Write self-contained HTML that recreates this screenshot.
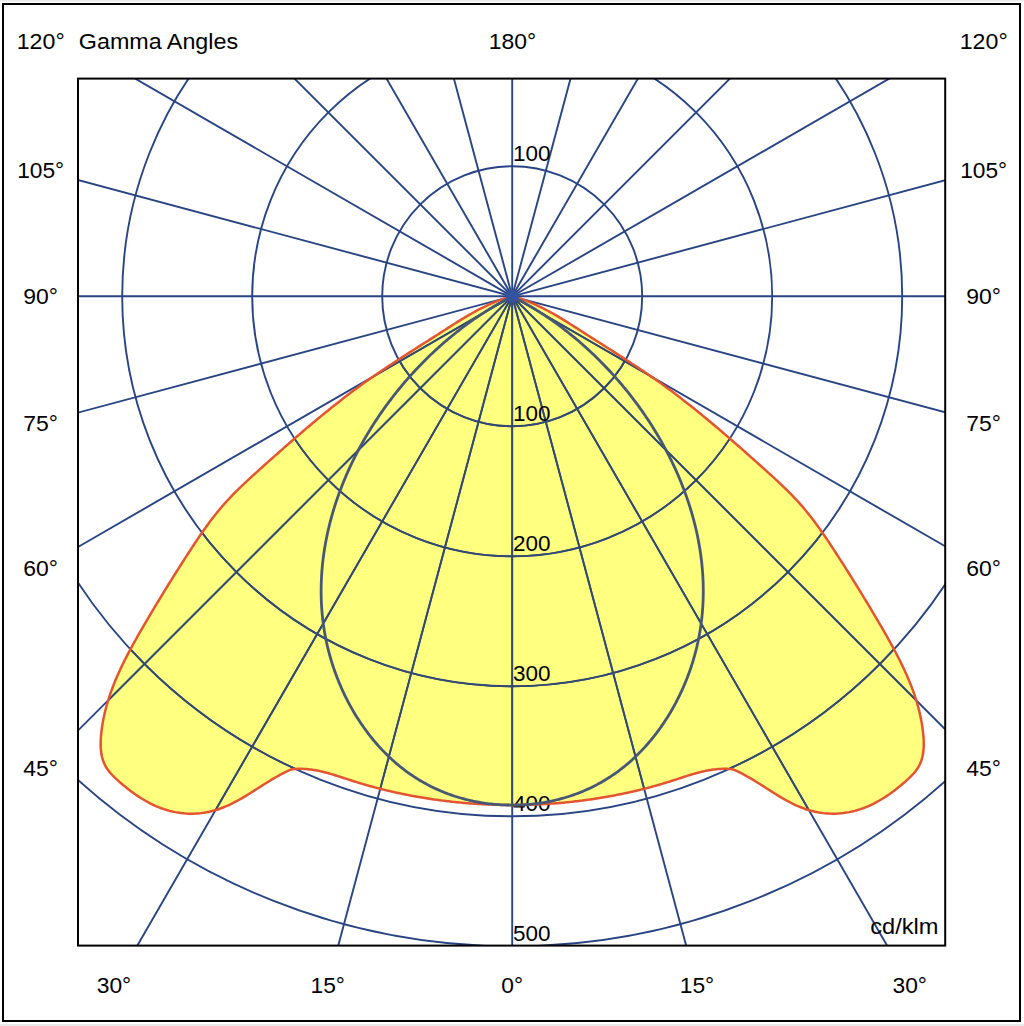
<!DOCTYPE html>
<html><head><meta charset="utf-8"><style>
html,body{margin:0;padding:0;background:#fff;width:1024px;height:1026px;overflow:hidden}
svg{display:block}
text{font-family:"Liberation Sans",sans-serif;font-size:22.5px;fill:#000}
</style></head><body>
<svg width="1024" height="1026" viewBox="0 0 1024 1026">
<defs><clipPath id="fr"><rect x="78.0" y="78.6" width="867.2" height="867.0"/></clipPath></defs>
<rect x="0" y="0" width="1024" height="1026" fill="#fff"/>
<rect x="0" y="0" width="1024" height="1.5" fill="#ececec"/>
<rect x="0" y="1024" width="1024" height="2" fill="#eaeaea"/>
<rect x="3" y="4" width="1017" height="1017" fill="none" stroke="#000" stroke-width="2"/>
<g clip-path="url(#fr)">
<path d="M512.20,296.30 L509.40,297.05 L506.63,297.86 L503.89,298.73 L501.17,299.66 L498.47,300.65 L495.79,301.69 L493.13,302.78 L490.49,303.91 L487.87,305.09 L485.27,306.32 L482.68,307.58 L480.11,308.89 L477.55,310.23 L475.01,311.60 L472.48,313.00 L469.96,314.43 L467.46,315.89 L464.96,317.37 L462.47,318.87 L459.99,320.38 L457.52,321.92 L455.05,323.46 L452.59,325.02 L450.13,326.59 L447.67,328.16 L445.22,329.73 L442.77,331.31 L440.32,332.88 L437.86,334.45 L435.41,336.02 L432.96,337.58 L430.51,339.15 L428.06,340.71 L425.61,342.26 L423.16,343.82 L420.71,345.38 L418.26,346.93 L415.81,348.49 L413.37,350.04 L410.93,351.60 L408.49,353.16 L406.05,354.72 L403.62,356.29 L401.18,357.86 L398.76,359.43 L396.33,361.00 L393.91,362.58 L391.49,364.17 L389.08,365.76 L386.68,367.36 L384.27,368.96 L381.87,370.57 L379.48,372.19 L377.10,373.82 L374.72,375.45 L372.34,377.10 L369.97,378.75 L367.61,380.42 L365.25,382.09 L362.91,383.77 L360.56,385.47 L358.23,387.17 L355.90,388.89 L353.58,390.61 L351.26,392.35 L348.95,394.09 L346.65,395.84 L344.35,397.60 L342.06,399.37 L339.77,401.15 L337.49,402.93 L335.21,404.73 L332.94,406.53 L330.68,408.34 L328.42,410.15 L326.16,411.98 L323.91,413.81 L321.67,415.64 L319.43,417.49 L317.19,419.33 L314.96,421.19 L312.73,423.05 L310.51,424.92 L308.29,426.79 L306.07,428.67 L303.86,430.55 L301.65,432.44 L299.45,434.33 L297.25,436.23 L295.05,438.13 L292.86,440.03 L290.67,441.94 L288.48,443.85 L286.29,445.76 L284.11,447.68 L281.93,449.60 L279.75,451.53 L277.58,453.45 L275.41,455.38 L273.24,457.31 L271.07,459.24 L268.90,461.18 L266.74,463.11 L264.58,465.05 L262.42,466.98 L260.26,468.92 L258.10,470.86 L255.95,472.81 L253.80,474.75 L251.66,476.70 L249.53,478.66 L247.41,480.63 L245.29,482.61 L243.19,484.60 L241.10,486.59 L239.02,488.61 L236.96,490.63 L234.92,492.67 L232.89,494.73 L230.89,496.81 L228.90,498.91 L226.93,501.02 L224.99,503.16 L223.07,505.32 L221.18,507.51 L219.32,509.72 L217.48,511.95 L215.66,514.21 L213.87,516.49 L212.09,518.79 L210.34,521.10 L208.61,523.44 L206.90,525.79 L205.20,528.15 L203.52,530.53 L201.86,532.92 L200.21,535.31 L198.57,537.72 L196.94,540.14 L195.33,542.56 L193.72,544.98 L192.12,547.41 L190.53,549.85 L188.94,552.28 L187.36,554.71 L185.78,557.14 L184.21,559.58 L182.65,562.02 L181.08,564.45 L179.53,566.89 L177.98,569.33 L176.43,571.77 L174.89,574.22 L173.36,576.66 L171.83,579.11 L170.30,581.56 L168.78,584.01 L167.26,586.47 L165.74,588.92 L164.23,591.38 L162.73,593.84 L161.22,596.31 L159.72,598.78 L158.23,601.25 L156.74,603.72 L155.25,606.20 L153.77,608.68 L152.28,611.16 L150.81,613.65 L149.33,616.15 L147.86,618.64 L146.39,621.14 L144.92,623.65 L143.46,626.15 L142.00,628.67 L140.54,631.19 L139.09,633.71 L137.65,636.24 L136.22,638.77 L134.79,641.31 L133.38,643.86 L131.98,646.41 L130.59,648.97 L129.21,651.54 L127.86,654.12 L126.52,656.70 L125.19,659.29 L123.89,661.89 L122.61,664.50 L121.35,667.12 L120.12,669.75 L118.91,672.39 L117.73,675.04 L116.57,677.69 L115.44,680.36 L114.35,683.04 L113.28,685.74 L112.25,688.44 L111.25,691.15 L110.29,693.88 L109.36,696.62 L108.47,699.38 L107.62,702.14 L106.81,704.92 L106.05,707.72 L105.32,710.52 L104.64,713.35 L104.01,716.18 L103.42,719.04 L102.88,721.90 L102.39,724.79 L101.95,727.69 L101.56,730.60 L101.23,733.54 L100.95,736.48 L100.76,739.42 L100.65,742.35 L100.65,745.27 L100.76,748.15 L101.00,751.00 L101.38,753.80 L101.91,756.55 L102.61,759.22 L103.50,761.83 L104.57,764.34 L105.85,766.76 L107.33,769.09 L109.00,771.33 L110.81,773.49 L112.76,775.59 L114.81,777.64 L116.95,779.63 L119.14,781.60 L121.38,783.53 L123.64,785.44 L125.94,787.32 L128.26,789.16 L130.62,790.96 L133.01,792.72 L135.43,794.43 L137.89,796.09 L140.37,797.70 L142.88,799.26 L145.41,800.75 L147.98,802.17 L150.58,803.53 L153.20,804.82 L155.85,806.03 L158.52,807.17 L161.23,808.22 L163.96,809.18 L166.71,810.06 L169.49,810.84 L172.30,811.53 L175.12,812.12 L177.96,812.61 L180.82,813.01 L183.68,813.31 L186.56,813.52 L189.44,813.63 L192.31,813.65 L195.19,813.56 L198.06,813.39 L200.92,813.12 L203.77,812.75 L206.60,812.28 L209.41,811.73 L212.20,811.07 L214.96,810.32 L217.70,809.48 L220.40,808.54 L223.08,807.53 L225.74,806.43 L228.37,805.27 L230.99,804.03 L233.58,802.74 L236.16,801.39 L238.72,800.00 L241.26,798.56 L243.79,797.08 L246.31,795.57 L248.82,794.03 L251.32,792.47 L253.82,790.89 L256.31,789.31 L258.79,787.72 L261.28,786.14 L263.76,784.56 L266.25,782.99 L268.73,781.45 L271.22,779.92 L273.72,778.43 L276.23,776.97 L278.74,775.56 L281.26,774.19 L283.80,772.87 L286.35,771.62 L288.92,770.42 L291.50,769.30 L293.03,769.14 L294.56,769.01 L296.09,768.92 L297.60,768.86 L299.12,768.83 L300.63,768.83 L302.13,768.86 L303.63,768.92 L305.12,769.01 L306.61,769.12 L308.10,769.25 L309.58,769.41 L311.05,769.60 L312.53,769.81 L314.00,770.03 L315.47,770.28 L316.93,770.55 L318.39,770.84 L319.85,771.15 L321.30,771.47 L322.76,771.81 L324.21,772.16 L325.66,772.53 L327.10,772.91 L328.55,773.31 L329.99,773.71 L331.43,774.13 L332.87,774.55 L334.31,774.99 L335.75,775.43 L337.19,775.88 L338.62,776.33 L340.06,776.79 L341.49,777.25 L342.93,777.72 L344.37,778.19 L345.80,778.66 L347.24,779.13 L348.68,779.60 L350.11,780.06 L351.55,780.53 L352.99,780.99 L354.43,781.45 L355.87,781.90 L357.32,782.35 L358.76,782.79 L360.21,783.23 L361.65,783.67 L363.10,784.10 L364.55,784.52 L366.00,784.94 L367.45,785.36 L368.91,785.77 L370.36,786.17 L371.81,786.57 L373.27,786.97 L374.73,787.36 L376.19,787.75 L377.65,788.13 L379.11,788.51 L380.57,788.89 L382.03,789.25 L383.50,789.62 L384.96,789.98 L386.43,790.34 L387.90,790.69 L389.36,791.03 L390.83,791.38 L392.30,791.71 L393.77,792.05 L395.25,792.38 L396.72,792.70 L398.19,793.02 L399.67,793.34 L401.15,793.65 L402.62,793.96 L404.10,794.26 L405.58,794.56 L407.06,794.85 L408.54,795.14 L410.02,795.43 L411.51,795.71 L412.99,795.98 L414.47,796.26 L415.96,796.52 L417.45,796.79 L418.93,797.05 L420.42,797.30 L421.91,797.55 L423.40,797.80 L424.89,798.04 L426.38,798.28 L427.87,798.52 L429.37,798.75 L430.86,798.97 L432.35,799.19 L433.85,799.41 L435.34,799.63 L436.84,799.83 L438.34,800.04 L439.83,800.24 L441.33,800.44 L442.83,800.63 L444.33,800.82 L445.83,801.00 L447.33,801.19 L448.84,801.36 L450.34,801.53 L451.84,801.70 L453.34,801.87 L454.85,802.03 L456.35,802.18 L457.86,802.33 L459.36,802.48 L460.87,802.63 L462.38,802.76 L463.88,802.90 L465.39,803.03 L466.90,803.16 L468.41,803.28 L469.91,803.40 L471.42,803.51 L472.93,803.62 L474.44,803.73 L475.95,803.83 L477.46,803.93 L478.97,804.02 L480.48,804.11 L481.99,804.19 L483.50,804.27 L485.02,804.35 L486.53,804.42 L488.04,804.49 L489.55,804.55 L491.06,804.61 L492.57,804.67 L494.09,804.72 L495.60,804.77 L497.11,804.81 L498.62,804.85 L500.13,804.88 L501.65,804.91 L503.16,804.93 L504.67,804.95 L506.18,804.97 L507.70,804.98 L509.21,804.99 L510.72,804.99 L512.20,804.99 L513.68,804.99 L515.19,804.99 L516.70,804.98 L518.22,804.97 L519.73,804.95 L521.24,804.93 L522.75,804.91 L524.27,804.88 L525.78,804.85 L527.29,804.81 L528.80,804.77 L530.31,804.72 L531.83,804.67 L533.34,804.61 L534.85,804.55 L536.36,804.49 L537.87,804.42 L539.38,804.35 L540.90,804.27 L542.41,804.19 L543.92,804.11 L545.43,804.02 L546.94,803.93 L548.45,803.83 L549.96,803.73 L551.47,803.62 L552.98,803.51 L554.49,803.40 L555.99,803.28 L557.50,803.16 L559.01,803.03 L560.52,802.90 L562.02,802.76 L563.53,802.63 L565.04,802.48 L566.54,802.33 L568.05,802.18 L569.55,802.03 L571.06,801.87 L572.56,801.70 L574.06,801.53 L575.56,801.36 L577.07,801.19 L578.57,801.00 L580.07,800.82 L581.57,800.63 L583.07,800.44 L584.57,800.24 L586.06,800.04 L587.56,799.83 L589.06,799.63 L590.55,799.41 L592.05,799.19 L593.54,798.97 L595.03,798.75 L596.53,798.52 L598.02,798.28 L599.51,798.04 L601.00,797.80 L602.49,797.55 L603.98,797.30 L605.47,797.05 L606.95,796.79 L608.44,796.52 L609.93,796.26 L611.41,795.98 L612.89,795.71 L614.38,795.43 L615.86,795.14 L617.34,794.85 L618.82,794.56 L620.30,794.26 L621.78,793.96 L623.25,793.65 L624.73,793.34 L626.21,793.02 L627.68,792.70 L629.15,792.38 L630.63,792.05 L632.10,791.71 L633.57,791.38 L635.04,791.03 L636.50,790.69 L637.97,790.34 L639.44,789.98 L640.90,789.62 L642.37,789.25 L643.83,788.89 L645.29,788.51 L646.75,788.13 L648.21,787.75 L649.67,787.36 L651.13,786.97 L652.59,786.57 L654.04,786.17 L655.49,785.77 L656.95,785.36 L658.40,784.94 L659.85,784.52 L661.30,784.10 L662.75,783.67 L664.19,783.23 L665.64,782.79 L667.08,782.35 L668.53,781.90 L669.97,781.45 L671.41,780.99 L672.85,780.53 L674.29,780.06 L675.72,779.60 L677.16,779.13 L678.60,778.66 L680.03,778.19 L681.47,777.72 L682.91,777.25 L684.34,776.79 L685.78,776.33 L687.21,775.88 L688.65,775.43 L690.09,774.99 L691.53,774.55 L692.97,774.13 L694.41,773.71 L695.85,773.31 L697.30,772.91 L698.74,772.53 L700.19,772.16 L701.64,771.81 L703.10,771.47 L704.55,771.15 L706.01,770.84 L707.47,770.55 L708.93,770.28 L710.40,770.03 L711.87,769.81 L713.35,769.60 L714.82,769.41 L716.30,769.25 L717.79,769.12 L719.28,769.01 L720.77,768.92 L722.27,768.86 L723.77,768.83 L725.28,768.83 L726.80,768.86 L728.31,768.92 L729.84,769.01 L731.37,769.14 L732.90,769.30 L735.48,770.42 L738.05,771.62 L740.60,772.87 L743.14,774.19 L745.66,775.56 L748.17,776.97 L750.68,778.43 L753.18,779.92 L755.67,781.45 L758.15,782.99 L760.64,784.56 L763.12,786.14 L765.61,787.72 L768.09,789.31 L770.58,790.89 L773.08,792.47 L775.58,794.03 L778.09,795.57 L780.61,797.08 L783.14,798.56 L785.68,800.00 L788.24,801.39 L790.82,802.74 L793.41,804.03 L796.03,805.27 L798.66,806.43 L801.32,807.53 L804.00,808.54 L806.70,809.48 L809.44,810.32 L812.20,811.07 L814.99,811.73 L817.80,812.28 L820.63,812.75 L823.48,813.12 L826.34,813.39 L829.21,813.56 L832.09,813.65 L834.96,813.63 L837.84,813.52 L840.72,813.31 L843.58,813.01 L846.44,812.61 L849.28,812.12 L852.10,811.53 L854.91,810.84 L857.69,810.06 L860.44,809.18 L863.17,808.22 L865.88,807.17 L868.55,806.03 L871.20,804.82 L873.82,803.53 L876.42,802.17 L878.99,800.75 L881.52,799.26 L884.03,797.70 L886.51,796.09 L888.97,794.43 L891.39,792.72 L893.78,790.96 L896.14,789.16 L898.46,787.32 L900.76,785.44 L903.02,783.53 L905.26,781.60 L907.45,779.63 L909.59,777.64 L911.64,775.59 L913.59,773.49 L915.40,771.33 L917.07,769.09 L918.55,766.76 L919.83,764.34 L920.90,761.83 L921.79,759.22 L922.49,756.55 L923.02,753.80 L923.40,751.00 L923.64,748.15 L923.75,745.27 L923.75,742.35 L923.64,739.42 L923.45,736.48 L923.17,733.54 L922.84,730.60 L922.45,727.69 L922.01,724.79 L921.52,721.90 L920.98,719.04 L920.39,716.18 L919.76,713.35 L919.08,710.52 L918.35,707.72 L917.59,704.92 L916.78,702.14 L915.93,699.38 L915.04,696.62 L914.11,693.88 L913.15,691.15 L912.15,688.44 L911.12,685.74 L910.05,683.04 L908.96,680.36 L907.83,677.69 L906.67,675.04 L905.49,672.39 L904.28,669.75 L903.05,667.12 L901.79,664.50 L900.51,661.89 L899.21,659.29 L897.88,656.70 L896.54,654.12 L895.19,651.54 L893.81,648.97 L892.42,646.41 L891.02,643.86 L889.61,641.31 L888.18,638.77 L886.75,636.24 L885.31,633.71 L883.86,631.19 L882.40,628.67 L880.94,626.15 L879.48,623.65 L878.01,621.14 L876.54,618.64 L875.07,616.15 L873.59,613.65 L872.12,611.16 L870.63,608.68 L869.15,606.20 L867.66,603.72 L866.17,601.25 L864.68,598.78 L863.18,596.31 L861.67,593.84 L860.17,591.38 L858.66,588.92 L857.14,586.47 L855.62,584.01 L854.10,581.56 L852.57,579.11 L851.04,576.66 L849.51,574.22 L847.97,571.77 L846.42,569.33 L844.87,566.89 L843.32,564.45 L841.75,562.02 L840.19,559.58 L838.62,557.14 L837.04,554.71 L835.46,552.28 L833.87,549.85 L832.28,547.41 L830.68,544.98 L829.07,542.56 L827.46,540.14 L825.83,537.72 L824.19,535.31 L822.54,532.92 L820.88,530.53 L819.20,528.15 L817.50,525.79 L815.79,523.44 L814.06,521.10 L812.31,518.79 L810.53,516.49 L808.74,514.21 L806.92,511.95 L805.08,509.72 L803.22,507.51 L801.33,505.32 L799.41,503.16 L797.47,501.02 L795.50,498.91 L793.51,496.81 L791.51,494.73 L789.48,492.67 L787.44,490.63 L785.38,488.61 L783.30,486.59 L781.21,484.60 L779.11,482.61 L776.99,480.63 L774.87,478.66 L772.74,476.70 L770.60,474.75 L768.45,472.81 L766.30,470.86 L764.14,468.92 L761.98,466.98 L759.82,465.05 L757.66,463.11 L755.50,461.18 L753.33,459.24 L751.16,457.31 L748.99,455.38 L746.82,453.45 L744.65,451.53 L742.47,449.60 L740.29,447.68 L738.11,445.76 L735.92,443.85 L733.73,441.94 L731.54,440.03 L729.35,438.13 L727.15,436.23 L724.95,434.33 L722.75,432.44 L720.54,430.55 L718.33,428.67 L716.11,426.79 L713.89,424.92 L711.67,423.05 L709.44,421.19 L707.21,419.33 L704.97,417.49 L702.73,415.64 L700.49,413.81 L698.24,411.98 L695.98,410.15 L693.72,408.34 L691.46,406.53 L689.19,404.73 L686.91,402.93 L684.63,401.15 L682.34,399.37 L680.05,397.60 L677.75,395.84 L675.45,394.09 L673.14,392.35 L670.82,390.61 L668.50,388.89 L666.17,387.17 L663.84,385.47 L661.49,383.77 L659.15,382.09 L656.79,380.42 L654.43,378.75 L652.06,377.10 L649.68,375.45 L647.30,373.82 L644.92,372.19 L642.53,370.57 L640.13,368.96 L637.72,367.36 L635.32,365.76 L632.91,364.17 L630.49,362.58 L628.07,361.00 L625.64,359.43 L623.22,357.86 L620.78,356.29 L618.35,354.72 L615.91,353.16 L613.47,351.60 L611.03,350.04 L608.59,348.49 L606.14,346.93 L603.69,345.38 L601.24,343.82 L598.79,342.26 L596.34,340.71 L593.89,339.15 L591.44,337.58 L588.99,336.02 L586.54,334.45 L584.08,332.88 L581.63,331.31 L579.18,329.73 L576.73,328.16 L574.27,326.59 L571.81,325.02 L569.35,323.46 L566.88,321.92 L564.41,320.38 L561.93,318.87 L559.44,317.37 L556.94,315.89 L554.44,314.43 L551.92,313.00 L549.39,311.60 L546.85,310.23 L544.29,308.89 L541.72,307.58 L539.13,306.32 L536.53,305.09 L533.91,303.91 L531.27,302.78 L528.61,301.69 L525.93,300.65 L523.23,299.66 L520.51,298.73 L517.77,297.86 L515.00,297.05 L512.20,296.30 Z" fill="#ffff80" stroke="none"/>
<clipPath id="yl"><path d="M512.20,296.30 L509.40,297.05 L506.63,297.86 L503.89,298.73 L501.17,299.66 L498.47,300.65 L495.79,301.69 L493.13,302.78 L490.49,303.91 L487.87,305.09 L485.27,306.32 L482.68,307.58 L480.11,308.89 L477.55,310.23 L475.01,311.60 L472.48,313.00 L469.96,314.43 L467.46,315.89 L464.96,317.37 L462.47,318.87 L459.99,320.38 L457.52,321.92 L455.05,323.46 L452.59,325.02 L450.13,326.59 L447.67,328.16 L445.22,329.73 L442.77,331.31 L440.32,332.88 L437.86,334.45 L435.41,336.02 L432.96,337.58 L430.51,339.15 L428.06,340.71 L425.61,342.26 L423.16,343.82 L420.71,345.38 L418.26,346.93 L415.81,348.49 L413.37,350.04 L410.93,351.60 L408.49,353.16 L406.05,354.72 L403.62,356.29 L401.18,357.86 L398.76,359.43 L396.33,361.00 L393.91,362.58 L391.49,364.17 L389.08,365.76 L386.68,367.36 L384.27,368.96 L381.87,370.57 L379.48,372.19 L377.10,373.82 L374.72,375.45 L372.34,377.10 L369.97,378.75 L367.61,380.42 L365.25,382.09 L362.91,383.77 L360.56,385.47 L358.23,387.17 L355.90,388.89 L353.58,390.61 L351.26,392.35 L348.95,394.09 L346.65,395.84 L344.35,397.60 L342.06,399.37 L339.77,401.15 L337.49,402.93 L335.21,404.73 L332.94,406.53 L330.68,408.34 L328.42,410.15 L326.16,411.98 L323.91,413.81 L321.67,415.64 L319.43,417.49 L317.19,419.33 L314.96,421.19 L312.73,423.05 L310.51,424.92 L308.29,426.79 L306.07,428.67 L303.86,430.55 L301.65,432.44 L299.45,434.33 L297.25,436.23 L295.05,438.13 L292.86,440.03 L290.67,441.94 L288.48,443.85 L286.29,445.76 L284.11,447.68 L281.93,449.60 L279.75,451.53 L277.58,453.45 L275.41,455.38 L273.24,457.31 L271.07,459.24 L268.90,461.18 L266.74,463.11 L264.58,465.05 L262.42,466.98 L260.26,468.92 L258.10,470.86 L255.95,472.81 L253.80,474.75 L251.66,476.70 L249.53,478.66 L247.41,480.63 L245.29,482.61 L243.19,484.60 L241.10,486.59 L239.02,488.61 L236.96,490.63 L234.92,492.67 L232.89,494.73 L230.89,496.81 L228.90,498.91 L226.93,501.02 L224.99,503.16 L223.07,505.32 L221.18,507.51 L219.32,509.72 L217.48,511.95 L215.66,514.21 L213.87,516.49 L212.09,518.79 L210.34,521.10 L208.61,523.44 L206.90,525.79 L205.20,528.15 L203.52,530.53 L201.86,532.92 L200.21,535.31 L198.57,537.72 L196.94,540.14 L195.33,542.56 L193.72,544.98 L192.12,547.41 L190.53,549.85 L188.94,552.28 L187.36,554.71 L185.78,557.14 L184.21,559.58 L182.65,562.02 L181.08,564.45 L179.53,566.89 L177.98,569.33 L176.43,571.77 L174.89,574.22 L173.36,576.66 L171.83,579.11 L170.30,581.56 L168.78,584.01 L167.26,586.47 L165.74,588.92 L164.23,591.38 L162.73,593.84 L161.22,596.31 L159.72,598.78 L158.23,601.25 L156.74,603.72 L155.25,606.20 L153.77,608.68 L152.28,611.16 L150.81,613.65 L149.33,616.15 L147.86,618.64 L146.39,621.14 L144.92,623.65 L143.46,626.15 L142.00,628.67 L140.54,631.19 L139.09,633.71 L137.65,636.24 L136.22,638.77 L134.79,641.31 L133.38,643.86 L131.98,646.41 L130.59,648.97 L129.21,651.54 L127.86,654.12 L126.52,656.70 L125.19,659.29 L123.89,661.89 L122.61,664.50 L121.35,667.12 L120.12,669.75 L118.91,672.39 L117.73,675.04 L116.57,677.69 L115.44,680.36 L114.35,683.04 L113.28,685.74 L112.25,688.44 L111.25,691.15 L110.29,693.88 L109.36,696.62 L108.47,699.38 L107.62,702.14 L106.81,704.92 L106.05,707.72 L105.32,710.52 L104.64,713.35 L104.01,716.18 L103.42,719.04 L102.88,721.90 L102.39,724.79 L101.95,727.69 L101.56,730.60 L101.23,733.54 L100.95,736.48 L100.76,739.42 L100.65,742.35 L100.65,745.27 L100.76,748.15 L101.00,751.00 L101.38,753.80 L101.91,756.55 L102.61,759.22 L103.50,761.83 L104.57,764.34 L105.85,766.76 L107.33,769.09 L109.00,771.33 L110.81,773.49 L112.76,775.59 L114.81,777.64 L116.95,779.63 L119.14,781.60 L121.38,783.53 L123.64,785.44 L125.94,787.32 L128.26,789.16 L130.62,790.96 L133.01,792.72 L135.43,794.43 L137.89,796.09 L140.37,797.70 L142.88,799.26 L145.41,800.75 L147.98,802.17 L150.58,803.53 L153.20,804.82 L155.85,806.03 L158.52,807.17 L161.23,808.22 L163.96,809.18 L166.71,810.06 L169.49,810.84 L172.30,811.53 L175.12,812.12 L177.96,812.61 L180.82,813.01 L183.68,813.31 L186.56,813.52 L189.44,813.63 L192.31,813.65 L195.19,813.56 L198.06,813.39 L200.92,813.12 L203.77,812.75 L206.60,812.28 L209.41,811.73 L212.20,811.07 L214.96,810.32 L217.70,809.48 L220.40,808.54 L223.08,807.53 L225.74,806.43 L228.37,805.27 L230.99,804.03 L233.58,802.74 L236.16,801.39 L238.72,800.00 L241.26,798.56 L243.79,797.08 L246.31,795.57 L248.82,794.03 L251.32,792.47 L253.82,790.89 L256.31,789.31 L258.79,787.72 L261.28,786.14 L263.76,784.56 L266.25,782.99 L268.73,781.45 L271.22,779.92 L273.72,778.43 L276.23,776.97 L278.74,775.56 L281.26,774.19 L283.80,772.87 L286.35,771.62 L288.92,770.42 L291.50,769.30 L293.03,769.14 L294.56,769.01 L296.09,768.92 L297.60,768.86 L299.12,768.83 L300.63,768.83 L302.13,768.86 L303.63,768.92 L305.12,769.01 L306.61,769.12 L308.10,769.25 L309.58,769.41 L311.05,769.60 L312.53,769.81 L314.00,770.03 L315.47,770.28 L316.93,770.55 L318.39,770.84 L319.85,771.15 L321.30,771.47 L322.76,771.81 L324.21,772.16 L325.66,772.53 L327.10,772.91 L328.55,773.31 L329.99,773.71 L331.43,774.13 L332.87,774.55 L334.31,774.99 L335.75,775.43 L337.19,775.88 L338.62,776.33 L340.06,776.79 L341.49,777.25 L342.93,777.72 L344.37,778.19 L345.80,778.66 L347.24,779.13 L348.68,779.60 L350.11,780.06 L351.55,780.53 L352.99,780.99 L354.43,781.45 L355.87,781.90 L357.32,782.35 L358.76,782.79 L360.21,783.23 L361.65,783.67 L363.10,784.10 L364.55,784.52 L366.00,784.94 L367.45,785.36 L368.91,785.77 L370.36,786.17 L371.81,786.57 L373.27,786.97 L374.73,787.36 L376.19,787.75 L377.65,788.13 L379.11,788.51 L380.57,788.89 L382.03,789.25 L383.50,789.62 L384.96,789.98 L386.43,790.34 L387.90,790.69 L389.36,791.03 L390.83,791.38 L392.30,791.71 L393.77,792.05 L395.25,792.38 L396.72,792.70 L398.19,793.02 L399.67,793.34 L401.15,793.65 L402.62,793.96 L404.10,794.26 L405.58,794.56 L407.06,794.85 L408.54,795.14 L410.02,795.43 L411.51,795.71 L412.99,795.98 L414.47,796.26 L415.96,796.52 L417.45,796.79 L418.93,797.05 L420.42,797.30 L421.91,797.55 L423.40,797.80 L424.89,798.04 L426.38,798.28 L427.87,798.52 L429.37,798.75 L430.86,798.97 L432.35,799.19 L433.85,799.41 L435.34,799.63 L436.84,799.83 L438.34,800.04 L439.83,800.24 L441.33,800.44 L442.83,800.63 L444.33,800.82 L445.83,801.00 L447.33,801.19 L448.84,801.36 L450.34,801.53 L451.84,801.70 L453.34,801.87 L454.85,802.03 L456.35,802.18 L457.86,802.33 L459.36,802.48 L460.87,802.63 L462.38,802.76 L463.88,802.90 L465.39,803.03 L466.90,803.16 L468.41,803.28 L469.91,803.40 L471.42,803.51 L472.93,803.62 L474.44,803.73 L475.95,803.83 L477.46,803.93 L478.97,804.02 L480.48,804.11 L481.99,804.19 L483.50,804.27 L485.02,804.35 L486.53,804.42 L488.04,804.49 L489.55,804.55 L491.06,804.61 L492.57,804.67 L494.09,804.72 L495.60,804.77 L497.11,804.81 L498.62,804.85 L500.13,804.88 L501.65,804.91 L503.16,804.93 L504.67,804.95 L506.18,804.97 L507.70,804.98 L509.21,804.99 L510.72,804.99 L512.20,804.99 L513.68,804.99 L515.19,804.99 L516.70,804.98 L518.22,804.97 L519.73,804.95 L521.24,804.93 L522.75,804.91 L524.27,804.88 L525.78,804.85 L527.29,804.81 L528.80,804.77 L530.31,804.72 L531.83,804.67 L533.34,804.61 L534.85,804.55 L536.36,804.49 L537.87,804.42 L539.38,804.35 L540.90,804.27 L542.41,804.19 L543.92,804.11 L545.43,804.02 L546.94,803.93 L548.45,803.83 L549.96,803.73 L551.47,803.62 L552.98,803.51 L554.49,803.40 L555.99,803.28 L557.50,803.16 L559.01,803.03 L560.52,802.90 L562.02,802.76 L563.53,802.63 L565.04,802.48 L566.54,802.33 L568.05,802.18 L569.55,802.03 L571.06,801.87 L572.56,801.70 L574.06,801.53 L575.56,801.36 L577.07,801.19 L578.57,801.00 L580.07,800.82 L581.57,800.63 L583.07,800.44 L584.57,800.24 L586.06,800.04 L587.56,799.83 L589.06,799.63 L590.55,799.41 L592.05,799.19 L593.54,798.97 L595.03,798.75 L596.53,798.52 L598.02,798.28 L599.51,798.04 L601.00,797.80 L602.49,797.55 L603.98,797.30 L605.47,797.05 L606.95,796.79 L608.44,796.52 L609.93,796.26 L611.41,795.98 L612.89,795.71 L614.38,795.43 L615.86,795.14 L617.34,794.85 L618.82,794.56 L620.30,794.26 L621.78,793.96 L623.25,793.65 L624.73,793.34 L626.21,793.02 L627.68,792.70 L629.15,792.38 L630.63,792.05 L632.10,791.71 L633.57,791.38 L635.04,791.03 L636.50,790.69 L637.97,790.34 L639.44,789.98 L640.90,789.62 L642.37,789.25 L643.83,788.89 L645.29,788.51 L646.75,788.13 L648.21,787.75 L649.67,787.36 L651.13,786.97 L652.59,786.57 L654.04,786.17 L655.49,785.77 L656.95,785.36 L658.40,784.94 L659.85,784.52 L661.30,784.10 L662.75,783.67 L664.19,783.23 L665.64,782.79 L667.08,782.35 L668.53,781.90 L669.97,781.45 L671.41,780.99 L672.85,780.53 L674.29,780.06 L675.72,779.60 L677.16,779.13 L678.60,778.66 L680.03,778.19 L681.47,777.72 L682.91,777.25 L684.34,776.79 L685.78,776.33 L687.21,775.88 L688.65,775.43 L690.09,774.99 L691.53,774.55 L692.97,774.13 L694.41,773.71 L695.85,773.31 L697.30,772.91 L698.74,772.53 L700.19,772.16 L701.64,771.81 L703.10,771.47 L704.55,771.15 L706.01,770.84 L707.47,770.55 L708.93,770.28 L710.40,770.03 L711.87,769.81 L713.35,769.60 L714.82,769.41 L716.30,769.25 L717.79,769.12 L719.28,769.01 L720.77,768.92 L722.27,768.86 L723.77,768.83 L725.28,768.83 L726.80,768.86 L728.31,768.92 L729.84,769.01 L731.37,769.14 L732.90,769.30 L735.48,770.42 L738.05,771.62 L740.60,772.87 L743.14,774.19 L745.66,775.56 L748.17,776.97 L750.68,778.43 L753.18,779.92 L755.67,781.45 L758.15,782.99 L760.64,784.56 L763.12,786.14 L765.61,787.72 L768.09,789.31 L770.58,790.89 L773.08,792.47 L775.58,794.03 L778.09,795.57 L780.61,797.08 L783.14,798.56 L785.68,800.00 L788.24,801.39 L790.82,802.74 L793.41,804.03 L796.03,805.27 L798.66,806.43 L801.32,807.53 L804.00,808.54 L806.70,809.48 L809.44,810.32 L812.20,811.07 L814.99,811.73 L817.80,812.28 L820.63,812.75 L823.48,813.12 L826.34,813.39 L829.21,813.56 L832.09,813.65 L834.96,813.63 L837.84,813.52 L840.72,813.31 L843.58,813.01 L846.44,812.61 L849.28,812.12 L852.10,811.53 L854.91,810.84 L857.69,810.06 L860.44,809.18 L863.17,808.22 L865.88,807.17 L868.55,806.03 L871.20,804.82 L873.82,803.53 L876.42,802.17 L878.99,800.75 L881.52,799.26 L884.03,797.70 L886.51,796.09 L888.97,794.43 L891.39,792.72 L893.78,790.96 L896.14,789.16 L898.46,787.32 L900.76,785.44 L903.02,783.53 L905.26,781.60 L907.45,779.63 L909.59,777.64 L911.64,775.59 L913.59,773.49 L915.40,771.33 L917.07,769.09 L918.55,766.76 L919.83,764.34 L920.90,761.83 L921.79,759.22 L922.49,756.55 L923.02,753.80 L923.40,751.00 L923.64,748.15 L923.75,745.27 L923.75,742.35 L923.64,739.42 L923.45,736.48 L923.17,733.54 L922.84,730.60 L922.45,727.69 L922.01,724.79 L921.52,721.90 L920.98,719.04 L920.39,716.18 L919.76,713.35 L919.08,710.52 L918.35,707.72 L917.59,704.92 L916.78,702.14 L915.93,699.38 L915.04,696.62 L914.11,693.88 L913.15,691.15 L912.15,688.44 L911.12,685.74 L910.05,683.04 L908.96,680.36 L907.83,677.69 L906.67,675.04 L905.49,672.39 L904.28,669.75 L903.05,667.12 L901.79,664.50 L900.51,661.89 L899.21,659.29 L897.88,656.70 L896.54,654.12 L895.19,651.54 L893.81,648.97 L892.42,646.41 L891.02,643.86 L889.61,641.31 L888.18,638.77 L886.75,636.24 L885.31,633.71 L883.86,631.19 L882.40,628.67 L880.94,626.15 L879.48,623.65 L878.01,621.14 L876.54,618.64 L875.07,616.15 L873.59,613.65 L872.12,611.16 L870.63,608.68 L869.15,606.20 L867.66,603.72 L866.17,601.25 L864.68,598.78 L863.18,596.31 L861.67,593.84 L860.17,591.38 L858.66,588.92 L857.14,586.47 L855.62,584.01 L854.10,581.56 L852.57,579.11 L851.04,576.66 L849.51,574.22 L847.97,571.77 L846.42,569.33 L844.87,566.89 L843.32,564.45 L841.75,562.02 L840.19,559.58 L838.62,557.14 L837.04,554.71 L835.46,552.28 L833.87,549.85 L832.28,547.41 L830.68,544.98 L829.07,542.56 L827.46,540.14 L825.83,537.72 L824.19,535.31 L822.54,532.92 L820.88,530.53 L819.20,528.15 L817.50,525.79 L815.79,523.44 L814.06,521.10 L812.31,518.79 L810.53,516.49 L808.74,514.21 L806.92,511.95 L805.08,509.72 L803.22,507.51 L801.33,505.32 L799.41,503.16 L797.47,501.02 L795.50,498.91 L793.51,496.81 L791.51,494.73 L789.48,492.67 L787.44,490.63 L785.38,488.61 L783.30,486.59 L781.21,484.60 L779.11,482.61 L776.99,480.63 L774.87,478.66 L772.74,476.70 L770.60,474.75 L768.45,472.81 L766.30,470.86 L764.14,468.92 L761.98,466.98 L759.82,465.05 L757.66,463.11 L755.50,461.18 L753.33,459.24 L751.16,457.31 L748.99,455.38 L746.82,453.45 L744.65,451.53 L742.47,449.60 L740.29,447.68 L738.11,445.76 L735.92,443.85 L733.73,441.94 L731.54,440.03 L729.35,438.13 L727.15,436.23 L724.95,434.33 L722.75,432.44 L720.54,430.55 L718.33,428.67 L716.11,426.79 L713.89,424.92 L711.67,423.05 L709.44,421.19 L707.21,419.33 L704.97,417.49 L702.73,415.64 L700.49,413.81 L698.24,411.98 L695.98,410.15 L693.72,408.34 L691.46,406.53 L689.19,404.73 L686.91,402.93 L684.63,401.15 L682.34,399.37 L680.05,397.60 L677.75,395.84 L675.45,394.09 L673.14,392.35 L670.82,390.61 L668.50,388.89 L666.17,387.17 L663.84,385.47 L661.49,383.77 L659.15,382.09 L656.79,380.42 L654.43,378.75 L652.06,377.10 L649.68,375.45 L647.30,373.82 L644.92,372.19 L642.53,370.57 L640.13,368.96 L637.72,367.36 L635.32,365.76 L632.91,364.17 L630.49,362.58 L628.07,361.00 L625.64,359.43 L623.22,357.86 L620.78,356.29 L618.35,354.72 L615.91,353.16 L613.47,351.60 L611.03,350.04 L608.59,348.49 L606.14,346.93 L603.69,345.38 L601.24,343.82 L598.79,342.26 L596.34,340.71 L593.89,339.15 L591.44,337.58 L588.99,336.02 L586.54,334.45 L584.08,332.88 L581.63,331.31 L579.18,329.73 L576.73,328.16 L574.27,326.59 L571.81,325.02 L569.35,323.46 L566.88,321.92 L564.41,320.38 L561.93,318.87 L559.44,317.37 L556.94,315.89 L554.44,314.43 L551.92,313.00 L549.39,311.60 L546.85,310.23 L544.29,308.89 L541.72,307.58 L539.13,306.32 L536.53,305.09 L533.91,303.91 L531.27,302.78 L528.61,301.69 L525.93,300.65 L523.23,299.66 L520.51,298.73 L517.77,297.86 L515.00,297.05 L512.20,296.30 Z"/></clipPath>
<g fill="none" stroke="#284482" stroke-width="1.9">
<circle cx="512.2" cy="296.3" r="130.0"/>
<circle cx="512.2" cy="296.3" r="260.0"/>
<circle cx="512.2" cy="296.3" r="390.0"/>
<circle cx="512.2" cy="296.3" r="520.0"/>
<circle cx="512.2" cy="296.3" r="650.0"/>
<line x1="512.2" y1="296.3" x2="512.2" y2="1696.3"/>
<line x1="512.2" y1="296.3" x2="874.5" y2="1648.6"/>
<line x1="512.2" y1="296.3" x2="1212.2" y2="1508.7"/>
<line x1="512.2" y1="296.3" x2="1502.1" y2="1286.2"/>
<line x1="512.2" y1="296.3" x2="1724.6" y2="996.3"/>
<line x1="512.2" y1="296.3" x2="1864.5" y2="658.6"/>
<line x1="512.2" y1="296.3" x2="1912.2" y2="296.3"/>
<line x1="512.2" y1="296.3" x2="1864.5" y2="-66.0"/>
<line x1="512.2" y1="296.3" x2="1724.6" y2="-403.7"/>
<line x1="512.2" y1="296.3" x2="1502.1" y2="-693.6"/>
<line x1="512.2" y1="296.3" x2="1212.2" y2="-916.1"/>
<line x1="512.2" y1="296.3" x2="874.5" y2="-1056.0"/>
<line x1="512.2" y1="296.3" x2="512.2" y2="-1103.7"/>
<line x1="512.2" y1="296.3" x2="149.9" y2="-1056.0"/>
<line x1="512.2" y1="296.3" x2="-187.8" y2="-916.1"/>
<line x1="512.2" y1="296.3" x2="-477.7" y2="-693.6"/>
<line x1="512.2" y1="296.3" x2="-700.2" y2="-403.7"/>
<line x1="512.2" y1="296.3" x2="-840.1" y2="-66.0"/>
<line x1="512.2" y1="296.3" x2="-887.8" y2="296.3"/>
<line x1="512.2" y1="296.3" x2="-840.1" y2="658.6"/>
<line x1="512.2" y1="296.3" x2="-700.2" y2="996.3"/>
<line x1="512.2" y1="296.3" x2="-477.7" y2="1286.2"/>
<line x1="512.2" y1="296.3" x2="-187.8" y2="1508.7"/>
<line x1="512.2" y1="296.3" x2="149.9" y2="1648.6"/>
</g>
<g fill="none" stroke="#33496e" stroke-width="1.7" clip-path="url(#yl)">
<circle cx="512.2" cy="296.3" r="130.0"/>
<circle cx="512.2" cy="296.3" r="260.0"/>
<circle cx="512.2" cy="296.3" r="390.0"/>
<circle cx="512.2" cy="296.3" r="520.0"/>
<circle cx="512.2" cy="296.3" r="650.0"/>
<line x1="512.2" y1="296.3" x2="512.2" y2="1696.3"/>
<line x1="512.2" y1="296.3" x2="874.5" y2="1648.6"/>
<line x1="512.2" y1="296.3" x2="1212.2" y2="1508.7"/>
<line x1="512.2" y1="296.3" x2="1502.1" y2="1286.2"/>
<line x1="512.2" y1="296.3" x2="1724.6" y2="996.3"/>
<line x1="512.2" y1="296.3" x2="1864.5" y2="658.6"/>
<line x1="512.2" y1="296.3" x2="1912.2" y2="296.3"/>
<line x1="512.2" y1="296.3" x2="1864.5" y2="-66.0"/>
<line x1="512.2" y1="296.3" x2="1724.6" y2="-403.7"/>
<line x1="512.2" y1="296.3" x2="1502.1" y2="-693.6"/>
<line x1="512.2" y1="296.3" x2="1212.2" y2="-916.1"/>
<line x1="512.2" y1="296.3" x2="874.5" y2="-1056.0"/>
<line x1="512.2" y1="296.3" x2="512.2" y2="-1103.7"/>
<line x1="512.2" y1="296.3" x2="149.9" y2="-1056.0"/>
<line x1="512.2" y1="296.3" x2="-187.8" y2="-916.1"/>
<line x1="512.2" y1="296.3" x2="-477.7" y2="-693.6"/>
<line x1="512.2" y1="296.3" x2="-700.2" y2="-403.7"/>
<line x1="512.2" y1="296.3" x2="-840.1" y2="-66.0"/>
<line x1="512.2" y1="296.3" x2="-887.8" y2="296.3"/>
<line x1="512.2" y1="296.3" x2="-840.1" y2="658.6"/>
<line x1="512.2" y1="296.3" x2="-700.2" y2="996.3"/>
<line x1="512.2" y1="296.3" x2="-477.7" y2="1286.2"/>
<line x1="512.2" y1="296.3" x2="-187.8" y2="1508.7"/>
<line x1="512.2" y1="296.3" x2="149.9" y2="1648.6"/>
</g>
<g><text x="513.0" y="161.0" text-anchor="start" textLength="37.48" lengthAdjust="spacingAndGlyphs">100</text>
<text x="513.0" y="420.8" text-anchor="start" textLength="37.48" lengthAdjust="spacingAndGlyphs">100</text>
<text x="513.0" y="550.8" text-anchor="start" textLength="37.48" lengthAdjust="spacingAndGlyphs">200</text>
<text x="513.0" y="680.8" text-anchor="start" textLength="37.48" lengthAdjust="spacingAndGlyphs">300</text>
<text x="513.0" y="810.8" text-anchor="start" textLength="37.48" lengthAdjust="spacingAndGlyphs">400</text>
<text x="513.0" y="940.8" text-anchor="start" textLength="37.48" lengthAdjust="spacingAndGlyphs">500</text></g>
<path d="M512.20,296.30 L509.40,297.05 L506.63,297.86 L503.89,298.73 L501.17,299.66 L498.47,300.65 L495.79,301.69 L493.13,302.78 L490.49,303.91 L487.87,305.09 L485.27,306.32 L482.68,307.58 L480.11,308.89 L477.55,310.23 L475.01,311.60 L472.48,313.00 L469.96,314.43 L467.46,315.89 L464.96,317.37 L462.47,318.87 L459.99,320.38 L457.52,321.92 L455.05,323.46 L452.59,325.02 L450.13,326.59 L447.67,328.16 L445.22,329.73 L442.77,331.31 L440.32,332.88 L437.86,334.45 L435.41,336.02 L432.96,337.58 L430.51,339.15 L428.06,340.71 L425.61,342.26 L423.16,343.82 L420.71,345.38 L418.26,346.93 L415.81,348.49 L413.37,350.04 L410.93,351.60 L408.49,353.16 L406.05,354.72 L403.62,356.29 L401.18,357.86 L398.76,359.43 L396.33,361.00 L393.91,362.58 L391.49,364.17 L389.08,365.76 L386.68,367.36 L384.27,368.96 L381.87,370.57 L379.48,372.19 L377.10,373.82 L374.72,375.45 L372.34,377.10 L369.97,378.75 L367.61,380.42 L365.25,382.09 L362.91,383.77 L360.56,385.47 L358.23,387.17 L355.90,388.89 L353.58,390.61 L351.26,392.35 L348.95,394.09 L346.65,395.84 L344.35,397.60 L342.06,399.37 L339.77,401.15 L337.49,402.93 L335.21,404.73 L332.94,406.53 L330.68,408.34 L328.42,410.15 L326.16,411.98 L323.91,413.81 L321.67,415.64 L319.43,417.49 L317.19,419.33 L314.96,421.19 L312.73,423.05 L310.51,424.92 L308.29,426.79 L306.07,428.67 L303.86,430.55 L301.65,432.44 L299.45,434.33 L297.25,436.23 L295.05,438.13 L292.86,440.03 L290.67,441.94 L288.48,443.85 L286.29,445.76 L284.11,447.68 L281.93,449.60 L279.75,451.53 L277.58,453.45 L275.41,455.38 L273.24,457.31 L271.07,459.24 L268.90,461.18 L266.74,463.11 L264.58,465.05 L262.42,466.98 L260.26,468.92 L258.10,470.86 L255.95,472.81 L253.80,474.75 L251.66,476.70 L249.53,478.66 L247.41,480.63 L245.29,482.61 L243.19,484.60 L241.10,486.59 L239.02,488.61 L236.96,490.63 L234.92,492.67 L232.89,494.73 L230.89,496.81 L228.90,498.91 L226.93,501.02 L224.99,503.16 L223.07,505.32 L221.18,507.51 L219.32,509.72 L217.48,511.95 L215.66,514.21 L213.87,516.49 L212.09,518.79 L210.34,521.10 L208.61,523.44 L206.90,525.79 L205.20,528.15 L203.52,530.53 L201.86,532.92 L200.21,535.31 L198.57,537.72 L196.94,540.14 L195.33,542.56 L193.72,544.98 L192.12,547.41 L190.53,549.85 L188.94,552.28 L187.36,554.71 L185.78,557.14 L184.21,559.58 L182.65,562.02 L181.08,564.45 L179.53,566.89 L177.98,569.33 L176.43,571.77 L174.89,574.22 L173.36,576.66 L171.83,579.11 L170.30,581.56 L168.78,584.01 L167.26,586.47 L165.74,588.92 L164.23,591.38 L162.73,593.84 L161.22,596.31 L159.72,598.78 L158.23,601.25 L156.74,603.72 L155.25,606.20 L153.77,608.68 L152.28,611.16 L150.81,613.65 L149.33,616.15 L147.86,618.64 L146.39,621.14 L144.92,623.65 L143.46,626.15 L142.00,628.67 L140.54,631.19 L139.09,633.71 L137.65,636.24 L136.22,638.77 L134.79,641.31 L133.38,643.86 L131.98,646.41 L130.59,648.97 L129.21,651.54 L127.86,654.12 L126.52,656.70 L125.19,659.29 L123.89,661.89 L122.61,664.50 L121.35,667.12 L120.12,669.75 L118.91,672.39 L117.73,675.04 L116.57,677.69 L115.44,680.36 L114.35,683.04 L113.28,685.74 L112.25,688.44 L111.25,691.15 L110.29,693.88 L109.36,696.62 L108.47,699.38 L107.62,702.14 L106.81,704.92 L106.05,707.72 L105.32,710.52 L104.64,713.35 L104.01,716.18 L103.42,719.04 L102.88,721.90 L102.39,724.79 L101.95,727.69 L101.56,730.60 L101.23,733.54 L100.95,736.48 L100.76,739.42 L100.65,742.35 L100.65,745.27 L100.76,748.15 L101.00,751.00 L101.38,753.80 L101.91,756.55 L102.61,759.22 L103.50,761.83 L104.57,764.34 L105.85,766.76 L107.33,769.09 L109.00,771.33 L110.81,773.49 L112.76,775.59 L114.81,777.64 L116.95,779.63 L119.14,781.60 L121.38,783.53 L123.64,785.44 L125.94,787.32 L128.26,789.16 L130.62,790.96 L133.01,792.72 L135.43,794.43 L137.89,796.09 L140.37,797.70 L142.88,799.26 L145.41,800.75 L147.98,802.17 L150.58,803.53 L153.20,804.82 L155.85,806.03 L158.52,807.17 L161.23,808.22 L163.96,809.18 L166.71,810.06 L169.49,810.84 L172.30,811.53 L175.12,812.12 L177.96,812.61 L180.82,813.01 L183.68,813.31 L186.56,813.52 L189.44,813.63 L192.31,813.65 L195.19,813.56 L198.06,813.39 L200.92,813.12 L203.77,812.75 L206.60,812.28 L209.41,811.73 L212.20,811.07 L214.96,810.32 L217.70,809.48 L220.40,808.54 L223.08,807.53 L225.74,806.43 L228.37,805.27 L230.99,804.03 L233.58,802.74 L236.16,801.39 L238.72,800.00 L241.26,798.56 L243.79,797.08 L246.31,795.57 L248.82,794.03 L251.32,792.47 L253.82,790.89 L256.31,789.31 L258.79,787.72 L261.28,786.14 L263.76,784.56 L266.25,782.99 L268.73,781.45 L271.22,779.92 L273.72,778.43 L276.23,776.97 L278.74,775.56 L281.26,774.19 L283.80,772.87 L286.35,771.62 L288.92,770.42 L291.50,769.30 L293.03,769.14 L294.56,769.01 L296.09,768.92 L297.60,768.86 L299.12,768.83 L300.63,768.83 L302.13,768.86 L303.63,768.92 L305.12,769.01 L306.61,769.12 L308.10,769.25 L309.58,769.41 L311.05,769.60 L312.53,769.81 L314.00,770.03 L315.47,770.28 L316.93,770.55 L318.39,770.84 L319.85,771.15 L321.30,771.47 L322.76,771.81 L324.21,772.16 L325.66,772.53 L327.10,772.91 L328.55,773.31 L329.99,773.71 L331.43,774.13 L332.87,774.55 L334.31,774.99 L335.75,775.43 L337.19,775.88 L338.62,776.33 L340.06,776.79 L341.49,777.25 L342.93,777.72 L344.37,778.19 L345.80,778.66 L347.24,779.13 L348.68,779.60 L350.11,780.06 L351.55,780.53 L352.99,780.99 L354.43,781.45 L355.87,781.90 L357.32,782.35 L358.76,782.79 L360.21,783.23 L361.65,783.67 L363.10,784.10 L364.55,784.52 L366.00,784.94 L367.45,785.36 L368.91,785.77 L370.36,786.17 L371.81,786.57 L373.27,786.97 L374.73,787.36 L376.19,787.75 L377.65,788.13 L379.11,788.51 L380.57,788.89 L382.03,789.25 L383.50,789.62 L384.96,789.98 L386.43,790.34 L387.90,790.69 L389.36,791.03 L390.83,791.38 L392.30,791.71 L393.77,792.05 L395.25,792.38 L396.72,792.70 L398.19,793.02 L399.67,793.34 L401.15,793.65 L402.62,793.96 L404.10,794.26 L405.58,794.56 L407.06,794.85 L408.54,795.14 L410.02,795.43 L411.51,795.71 L412.99,795.98 L414.47,796.26 L415.96,796.52 L417.45,796.79 L418.93,797.05 L420.42,797.30 L421.91,797.55 L423.40,797.80 L424.89,798.04 L426.38,798.28 L427.87,798.52 L429.37,798.75 L430.86,798.97 L432.35,799.19 L433.85,799.41 L435.34,799.63 L436.84,799.83 L438.34,800.04 L439.83,800.24 L441.33,800.44 L442.83,800.63 L444.33,800.82 L445.83,801.00 L447.33,801.19 L448.84,801.36 L450.34,801.53 L451.84,801.70 L453.34,801.87 L454.85,802.03 L456.35,802.18 L457.86,802.33 L459.36,802.48 L460.87,802.63 L462.38,802.76 L463.88,802.90 L465.39,803.03 L466.90,803.16 L468.41,803.28 L469.91,803.40 L471.42,803.51 L472.93,803.62 L474.44,803.73 L475.95,803.83 L477.46,803.93 L478.97,804.02 L480.48,804.11 L481.99,804.19 L483.50,804.27 L485.02,804.35 L486.53,804.42 L488.04,804.49 L489.55,804.55 L491.06,804.61 L492.57,804.67 L494.09,804.72 L495.60,804.77 L497.11,804.81 L498.62,804.85 L500.13,804.88 L501.65,804.91 L503.16,804.93 L504.67,804.95 L506.18,804.97 L507.70,804.98 L509.21,804.99 L510.72,804.99 L512.20,804.99 L513.68,804.99 L515.19,804.99 L516.70,804.98 L518.22,804.97 L519.73,804.95 L521.24,804.93 L522.75,804.91 L524.27,804.88 L525.78,804.85 L527.29,804.81 L528.80,804.77 L530.31,804.72 L531.83,804.67 L533.34,804.61 L534.85,804.55 L536.36,804.49 L537.87,804.42 L539.38,804.35 L540.90,804.27 L542.41,804.19 L543.92,804.11 L545.43,804.02 L546.94,803.93 L548.45,803.83 L549.96,803.73 L551.47,803.62 L552.98,803.51 L554.49,803.40 L555.99,803.28 L557.50,803.16 L559.01,803.03 L560.52,802.90 L562.02,802.76 L563.53,802.63 L565.04,802.48 L566.54,802.33 L568.05,802.18 L569.55,802.03 L571.06,801.87 L572.56,801.70 L574.06,801.53 L575.56,801.36 L577.07,801.19 L578.57,801.00 L580.07,800.82 L581.57,800.63 L583.07,800.44 L584.57,800.24 L586.06,800.04 L587.56,799.83 L589.06,799.63 L590.55,799.41 L592.05,799.19 L593.54,798.97 L595.03,798.75 L596.53,798.52 L598.02,798.28 L599.51,798.04 L601.00,797.80 L602.49,797.55 L603.98,797.30 L605.47,797.05 L606.95,796.79 L608.44,796.52 L609.93,796.26 L611.41,795.98 L612.89,795.71 L614.38,795.43 L615.86,795.14 L617.34,794.85 L618.82,794.56 L620.30,794.26 L621.78,793.96 L623.25,793.65 L624.73,793.34 L626.21,793.02 L627.68,792.70 L629.15,792.38 L630.63,792.05 L632.10,791.71 L633.57,791.38 L635.04,791.03 L636.50,790.69 L637.97,790.34 L639.44,789.98 L640.90,789.62 L642.37,789.25 L643.83,788.89 L645.29,788.51 L646.75,788.13 L648.21,787.75 L649.67,787.36 L651.13,786.97 L652.59,786.57 L654.04,786.17 L655.49,785.77 L656.95,785.36 L658.40,784.94 L659.85,784.52 L661.30,784.10 L662.75,783.67 L664.19,783.23 L665.64,782.79 L667.08,782.35 L668.53,781.90 L669.97,781.45 L671.41,780.99 L672.85,780.53 L674.29,780.06 L675.72,779.60 L677.16,779.13 L678.60,778.66 L680.03,778.19 L681.47,777.72 L682.91,777.25 L684.34,776.79 L685.78,776.33 L687.21,775.88 L688.65,775.43 L690.09,774.99 L691.53,774.55 L692.97,774.13 L694.41,773.71 L695.85,773.31 L697.30,772.91 L698.74,772.53 L700.19,772.16 L701.64,771.81 L703.10,771.47 L704.55,771.15 L706.01,770.84 L707.47,770.55 L708.93,770.28 L710.40,770.03 L711.87,769.81 L713.35,769.60 L714.82,769.41 L716.30,769.25 L717.79,769.12 L719.28,769.01 L720.77,768.92 L722.27,768.86 L723.77,768.83 L725.28,768.83 L726.80,768.86 L728.31,768.92 L729.84,769.01 L731.37,769.14 L732.90,769.30 L735.48,770.42 L738.05,771.62 L740.60,772.87 L743.14,774.19 L745.66,775.56 L748.17,776.97 L750.68,778.43 L753.18,779.92 L755.67,781.45 L758.15,782.99 L760.64,784.56 L763.12,786.14 L765.61,787.72 L768.09,789.31 L770.58,790.89 L773.08,792.47 L775.58,794.03 L778.09,795.57 L780.61,797.08 L783.14,798.56 L785.68,800.00 L788.24,801.39 L790.82,802.74 L793.41,804.03 L796.03,805.27 L798.66,806.43 L801.32,807.53 L804.00,808.54 L806.70,809.48 L809.44,810.32 L812.20,811.07 L814.99,811.73 L817.80,812.28 L820.63,812.75 L823.48,813.12 L826.34,813.39 L829.21,813.56 L832.09,813.65 L834.96,813.63 L837.84,813.52 L840.72,813.31 L843.58,813.01 L846.44,812.61 L849.28,812.12 L852.10,811.53 L854.91,810.84 L857.69,810.06 L860.44,809.18 L863.17,808.22 L865.88,807.17 L868.55,806.03 L871.20,804.82 L873.82,803.53 L876.42,802.17 L878.99,800.75 L881.52,799.26 L884.03,797.70 L886.51,796.09 L888.97,794.43 L891.39,792.72 L893.78,790.96 L896.14,789.16 L898.46,787.32 L900.76,785.44 L903.02,783.53 L905.26,781.60 L907.45,779.63 L909.59,777.64 L911.64,775.59 L913.59,773.49 L915.40,771.33 L917.07,769.09 L918.55,766.76 L919.83,764.34 L920.90,761.83 L921.79,759.22 L922.49,756.55 L923.02,753.80 L923.40,751.00 L923.64,748.15 L923.75,745.27 L923.75,742.35 L923.64,739.42 L923.45,736.48 L923.17,733.54 L922.84,730.60 L922.45,727.69 L922.01,724.79 L921.52,721.90 L920.98,719.04 L920.39,716.18 L919.76,713.35 L919.08,710.52 L918.35,707.72 L917.59,704.92 L916.78,702.14 L915.93,699.38 L915.04,696.62 L914.11,693.88 L913.15,691.15 L912.15,688.44 L911.12,685.74 L910.05,683.04 L908.96,680.36 L907.83,677.69 L906.67,675.04 L905.49,672.39 L904.28,669.75 L903.05,667.12 L901.79,664.50 L900.51,661.89 L899.21,659.29 L897.88,656.70 L896.54,654.12 L895.19,651.54 L893.81,648.97 L892.42,646.41 L891.02,643.86 L889.61,641.31 L888.18,638.77 L886.75,636.24 L885.31,633.71 L883.86,631.19 L882.40,628.67 L880.94,626.15 L879.48,623.65 L878.01,621.14 L876.54,618.64 L875.07,616.15 L873.59,613.65 L872.12,611.16 L870.63,608.68 L869.15,606.20 L867.66,603.72 L866.17,601.25 L864.68,598.78 L863.18,596.31 L861.67,593.84 L860.17,591.38 L858.66,588.92 L857.14,586.47 L855.62,584.01 L854.10,581.56 L852.57,579.11 L851.04,576.66 L849.51,574.22 L847.97,571.77 L846.42,569.33 L844.87,566.89 L843.32,564.45 L841.75,562.02 L840.19,559.58 L838.62,557.14 L837.04,554.71 L835.46,552.28 L833.87,549.85 L832.28,547.41 L830.68,544.98 L829.07,542.56 L827.46,540.14 L825.83,537.72 L824.19,535.31 L822.54,532.92 L820.88,530.53 L819.20,528.15 L817.50,525.79 L815.79,523.44 L814.06,521.10 L812.31,518.79 L810.53,516.49 L808.74,514.21 L806.92,511.95 L805.08,509.72 L803.22,507.51 L801.33,505.32 L799.41,503.16 L797.47,501.02 L795.50,498.91 L793.51,496.81 L791.51,494.73 L789.48,492.67 L787.44,490.63 L785.38,488.61 L783.30,486.59 L781.21,484.60 L779.11,482.61 L776.99,480.63 L774.87,478.66 L772.74,476.70 L770.60,474.75 L768.45,472.81 L766.30,470.86 L764.14,468.92 L761.98,466.98 L759.82,465.05 L757.66,463.11 L755.50,461.18 L753.33,459.24 L751.16,457.31 L748.99,455.38 L746.82,453.45 L744.65,451.53 L742.47,449.60 L740.29,447.68 L738.11,445.76 L735.92,443.85 L733.73,441.94 L731.54,440.03 L729.35,438.13 L727.15,436.23 L724.95,434.33 L722.75,432.44 L720.54,430.55 L718.33,428.67 L716.11,426.79 L713.89,424.92 L711.67,423.05 L709.44,421.19 L707.21,419.33 L704.97,417.49 L702.73,415.64 L700.49,413.81 L698.24,411.98 L695.98,410.15 L693.72,408.34 L691.46,406.53 L689.19,404.73 L686.91,402.93 L684.63,401.15 L682.34,399.37 L680.05,397.60 L677.75,395.84 L675.45,394.09 L673.14,392.35 L670.82,390.61 L668.50,388.89 L666.17,387.17 L663.84,385.47 L661.49,383.77 L659.15,382.09 L656.79,380.42 L654.43,378.75 L652.06,377.10 L649.68,375.45 L647.30,373.82 L644.92,372.19 L642.53,370.57 L640.13,368.96 L637.72,367.36 L635.32,365.76 L632.91,364.17 L630.49,362.58 L628.07,361.00 L625.64,359.43 L623.22,357.86 L620.78,356.29 L618.35,354.72 L615.91,353.16 L613.47,351.60 L611.03,350.04 L608.59,348.49 L606.14,346.93 L603.69,345.38 L601.24,343.82 L598.79,342.26 L596.34,340.71 L593.89,339.15 L591.44,337.58 L588.99,336.02 L586.54,334.45 L584.08,332.88 L581.63,331.31 L579.18,329.73 L576.73,328.16 L574.27,326.59 L571.81,325.02 L569.35,323.46 L566.88,321.92 L564.41,320.38 L561.93,318.87 L559.44,317.37 L556.94,315.89 L554.44,314.43 L551.92,313.00 L549.39,311.60 L546.85,310.23 L544.29,308.89 L541.72,307.58 L539.13,306.32 L536.53,305.09 L533.91,303.91 L531.27,302.78 L528.61,301.69 L525.93,300.65 L523.23,299.66 L520.51,298.73 L517.77,297.86 L515.00,297.05 L512.20,296.30" fill="none" stroke="#e35530" stroke-width="2.5" stroke-linejoin="round"/>
<path d="M512.20,296.30 L510.72,297.08 L509.25,297.84 L507.78,298.61 L506.31,299.39 L504.85,300.18 L503.38,300.98 L501.92,301.79 L500.47,302.60 L499.01,303.43 L497.56,304.26 L496.11,305.10 L494.67,305.95 L493.23,306.81 L491.79,307.68 L490.35,308.55 L488.92,309.44 L487.49,310.33 L486.06,311.23 L484.64,312.13 L483.22,313.05 L481.80,313.97 L480.39,314.90 L478.98,315.84 L477.57,316.79 L476.17,317.75 L474.77,318.71 L473.37,319.68 L471.98,320.66 L470.59,321.64 L469.21,322.64 L467.83,323.64 L466.45,324.65 L465.07,325.67 L463.70,326.69 L462.34,327.72 L460.98,328.76 L459.62,329.81 L458.27,330.86 L456.92,331.92 L455.57,332.99 L454.23,334.07 L452.89,335.15 L451.56,336.24 L450.23,337.34 L448.91,338.44 L447.59,339.55 L446.27,340.67 L444.96,341.80 L443.65,342.93 L442.35,344.07 L441.05,345.21 L439.76,346.36 L438.47,347.52 L437.19,348.69 L435.91,349.86 L434.64,351.04 L433.37,352.22 L432.10,353.42 L430.85,354.61 L429.59,355.82 L428.34,357.03 L427.10,358.25 L425.86,359.47 L424.62,360.70 L423.40,361.94 L422.17,363.18 L420.95,364.43 L419.74,365.68 L418.53,366.94 L417.33,368.21 L416.13,369.48 L414.94,370.76 L413.75,372.04 L412.57,373.33 L411.40,374.63 L410.23,375.93 L409.07,377.24 L407.91,378.55 L406.76,379.87 L405.61,381.19 L404.47,382.52 L403.33,383.86 L402.20,385.20 L401.08,386.55 L399.96,387.90 L398.85,389.25 L397.75,390.62 L396.65,391.98 L395.56,393.36 L394.47,394.73 L393.39,396.12 L392.31,397.51 L391.25,398.90 L390.19,400.30 L389.13,401.70 L388.08,403.11 L387.04,404.52 L386.00,405.94 L384.97,407.36 L383.95,408.79 L382.94,410.22 L381.93,411.66 L380.93,413.10 L379.93,414.54 L378.94,415.99 L377.96,417.45 L376.98,418.91 L376.02,420.37 L375.05,421.84 L374.10,423.31 L373.15,424.79 L372.21,426.27 L371.28,427.75 L370.35,429.24 L369.44,430.74 L368.52,432.23 L367.62,433.73 L366.72,435.24 L365.84,436.75 L364.95,438.26 L364.08,439.78 L363.21,441.30 L362.35,442.83 L361.50,444.35 L360.66,445.89 L359.82,447.42 L358.99,448.96 L358.17,450.51 L357.36,452.05 L356.55,453.60 L355.76,455.16 L354.97,456.71 L354.19,458.27 L353.41,459.84 L352.65,461.40 L351.89,462.98 L351.14,464.55 L350.40,466.13 L349.67,467.71 L348.94,469.29 L348.23,470.87 L347.52,472.46 L346.82,474.06 L346.13,475.65 L345.44,477.25 L344.77,478.85 L344.10,480.45 L343.45,482.06 L342.80,483.67 L342.16,485.28 L341.53,486.89 L340.91,488.51 L340.29,490.13 L339.69,491.75 L339.09,493.37 L338.51,495.00 L337.93,496.63 L337.36,498.26 L336.80,499.89 L336.25,501.53 L335.71,503.17 L335.17,504.81 L334.65,506.45 L334.14,508.10 L333.63,509.74 L333.14,511.39 L332.65,513.04 L332.17,514.69 L331.71,516.35 L331.25,518.00 L330.80,519.66 L330.36,521.32 L329.93,522.98 L329.51,524.64 L329.10,526.31 L328.70,527.98 L328.31,529.64 L327.93,531.31 L327.56,532.98 L327.20,534.65 L326.85,536.33 L326.51,538.00 L326.18,539.68 L325.86,541.36 L325.55,543.03 L325.25,544.71 L324.96,546.40 L324.68,548.08 L324.41,549.76 L324.15,551.44 L323.90,553.13 L323.66,554.81 L323.44,556.50 L323.22,558.19 L323.01,559.88 L322.81,561.57 L322.63,563.26 L322.45,564.95 L322.29,566.64 L322.13,568.33 L321.99,570.02 L321.86,571.71 L321.74,573.41 L321.63,575.10 L321.53,576.79 L321.44,578.49 L321.36,580.18 L321.30,581.88 L321.24,583.57 L321.20,585.27 L321.16,586.96 L321.14,588.66 L321.13,590.35 L321.13,592.05 L321.14,593.75 L321.17,595.44 L321.20,597.14 L321.25,598.83 L321.31,600.53 L321.38,602.22 L321.46,603.91 L321.55,605.61 L321.65,607.30 L321.77,608.99 L321.90,610.69 L322.04,612.38 L322.19,614.07 L322.35,615.76 L322.53,617.45 L322.72,619.14 L322.91,620.83 L323.13,622.52 L323.35,624.21 L323.59,625.89 L323.83,627.58 L324.09,629.26 L324.37,630.95 L324.65,632.63 L324.95,634.31 L325.26,635.99 L325.58,637.67 L325.91,639.35 L326.26,641.03 L326.62,642.71 L326.99,644.38 L327.37,646.05 L327.77,647.73 L328.18,649.40 L328.60,651.07 L329.04,652.73 L329.49,654.40 L329.95,656.06 L330.42,657.72 L330.91,659.38 L331.40,661.04 L331.91,662.70 L332.44,664.35 L332.97,666.00 L333.52,667.64 L334.08,669.29 L334.65,670.93 L335.24,672.56 L335.84,674.19 L336.44,675.82 L337.07,677.45 L337.70,679.07 L338.35,680.69 L339.00,682.30 L339.67,683.91 L340.35,685.51 L341.05,687.11 L341.75,688.71 L342.47,690.30 L343.20,691.88 L343.94,693.46 L344.69,695.04 L345.46,696.60 L346.23,698.17 L347.02,699.72 L347.82,701.27 L348.63,702.82 L349.45,704.36 L350.29,705.89 L351.13,707.41 L351.99,708.93 L352.86,710.44 L353.74,711.95 L354.63,713.44 L355.53,714.93 L356.44,716.42 L357.37,717.89 L358.31,719.36 L359.25,720.82 L360.21,722.27 L361.18,723.71 L362.16,725.15 L363.15,726.57 L364.15,727.99 L365.17,729.40 L366.19,730.80 L367.23,732.19 L368.27,733.57 L369.33,734.94 L370.40,736.30 L371.47,737.66 L372.56,739.00 L373.66,740.33 L374.77,741.65 L375.89,742.97 L377.02,744.27 L378.16,745.56 L379.32,746.84 L380.48,748.11 L381.65,749.37 L382.83,750.62 L384.03,751.86 L385.23,753.08 L386.44,754.29 L387.67,755.50 L388.90,756.69 L390.15,757.86 L391.40,759.03 L392.67,760.18 L393.94,761.33 L395.23,762.45 L396.52,763.57 L397.82,764.67 L399.14,765.76 L400.46,766.84 L401.80,767.90 L403.14,768.95 L404.49,769.99 L405.86,771.01 L407.23,772.02 L408.61,773.02 L410.00,774.00 L411.41,774.96 L412.82,775.91 L414.24,776.85 L415.67,777.77 L417.11,778.68 L418.56,779.57 L420.01,780.45 L421.48,781.31 L422.95,782.16 L424.44,783.00 L425.93,783.82 L427.43,784.62 L428.94,785.41 L430.45,786.18 L431.98,786.94 L433.51,787.68 L435.05,788.41 L436.59,789.13 L438.15,789.82 L439.71,790.51 L441.28,791.17 L442.85,791.83 L444.43,792.46 L446.02,793.09 L447.62,793.69 L449.22,794.28 L450.83,794.86 L452.44,795.42 L454.06,795.96 L455.68,796.49 L457.32,797.01 L458.95,797.51 L460.59,797.99 L462.24,798.45 L463.89,798.91 L465.55,799.34 L467.21,799.76 L468.88,800.16 L470.55,800.55 L472.23,800.92 L473.91,801.28 L475.59,801.62 L477.28,801.95 L478.98,802.25 L480.67,802.55 L482.37,802.82 L484.08,803.08 L485.78,803.33 L487.49,803.55 L489.21,803.77 L490.92,803.96 L492.64,804.14 L494.36,804.30 L496.09,804.45 L497.82,804.58 L499.54,804.69 L501.28,804.79 L503.01,804.87 L504.74,804.94 L506.48,804.99 L508.22,805.02 L509.96,805.03 L512.20,805.03 L514.44,805.03 L516.18,805.02 L517.92,804.99 L519.66,804.94 L521.39,804.87 L523.12,804.79 L524.86,804.69 L526.58,804.58 L528.31,804.45 L530.04,804.30 L531.76,804.14 L533.48,803.96 L535.19,803.77 L536.91,803.55 L538.62,803.33 L540.32,803.08 L542.03,802.82 L543.73,802.55 L545.42,802.25 L547.12,801.95 L548.81,801.62 L550.49,801.28 L552.17,800.92 L553.85,800.55 L555.52,800.16 L557.19,799.76 L558.85,799.34 L560.51,798.91 L562.16,798.45 L563.81,797.99 L565.45,797.51 L567.08,797.01 L568.72,796.49 L570.34,795.96 L571.96,795.42 L573.57,794.86 L575.18,794.28 L576.78,793.69 L578.38,793.09 L579.97,792.46 L581.55,791.83 L583.12,791.17 L584.69,790.51 L586.25,789.82 L587.81,789.13 L589.35,788.41 L590.89,787.68 L592.42,786.94 L593.95,786.18 L595.46,785.41 L596.97,784.62 L598.47,783.82 L599.96,783.00 L601.45,782.16 L602.92,781.31 L604.39,780.45 L605.84,779.57 L607.29,778.68 L608.73,777.77 L610.16,776.85 L611.58,775.91 L612.99,774.96 L614.40,774.00 L615.79,773.02 L617.17,772.02 L618.54,771.01 L619.91,769.99 L621.26,768.95 L622.60,767.90 L623.94,766.84 L625.26,765.76 L626.58,764.67 L627.88,763.57 L629.17,762.45 L630.46,761.33 L631.73,760.18 L633.00,759.03 L634.25,757.86 L635.50,756.69 L636.73,755.50 L637.96,754.29 L639.17,753.08 L640.37,751.86 L641.57,750.62 L642.75,749.37 L643.92,748.11 L645.08,746.84 L646.24,745.56 L647.38,744.27 L648.51,742.97 L649.63,741.65 L650.74,740.33 L651.84,739.00 L652.93,737.66 L654.00,736.30 L655.07,734.94 L656.13,733.57 L657.17,732.19 L658.21,730.80 L659.23,729.40 L660.25,727.99 L661.25,726.57 L662.24,725.15 L663.22,723.71 L664.19,722.27 L665.15,720.82 L666.09,719.36 L667.03,717.89 L667.96,716.42 L668.87,714.93 L669.77,713.44 L670.66,711.95 L671.54,710.44 L672.41,708.93 L673.27,707.41 L674.11,705.89 L674.95,704.36 L675.77,702.82 L676.58,701.27 L677.38,699.72 L678.17,698.17 L678.94,696.60 L679.71,695.04 L680.46,693.46 L681.20,691.88 L681.93,690.30 L682.65,688.71 L683.35,687.11 L684.05,685.51 L684.73,683.91 L685.40,682.30 L686.05,680.69 L686.70,679.07 L687.33,677.45 L687.96,675.82 L688.56,674.19 L689.16,672.56 L689.75,670.93 L690.32,669.29 L690.88,667.64 L691.43,666.00 L691.96,664.35 L692.49,662.70 L693.00,661.04 L693.49,659.38 L693.98,657.72 L694.45,656.06 L694.91,654.40 L695.36,652.73 L695.80,651.07 L696.22,649.40 L696.63,647.73 L697.03,646.05 L697.41,644.38 L697.78,642.71 L698.14,641.03 L698.49,639.35 L698.82,637.67 L699.14,635.99 L699.45,634.31 L699.75,632.63 L700.03,630.95 L700.31,629.26 L700.57,627.58 L700.81,625.89 L701.05,624.21 L701.27,622.52 L701.49,620.83 L701.68,619.14 L701.87,617.45 L702.05,615.76 L702.21,614.07 L702.36,612.38 L702.50,610.69 L702.63,608.99 L702.75,607.30 L702.85,605.61 L702.94,603.91 L703.02,602.22 L703.09,600.53 L703.15,598.83 L703.20,597.14 L703.23,595.44 L703.26,593.75 L703.27,592.05 L703.27,590.35 L703.26,588.66 L703.24,586.96 L703.20,585.27 L703.16,583.57 L703.10,581.88 L703.04,580.18 L702.96,578.49 L702.87,576.79 L702.77,575.10 L702.66,573.41 L702.54,571.71 L702.41,570.02 L702.27,568.33 L702.11,566.64 L701.95,564.95 L701.77,563.26 L701.59,561.57 L701.39,559.88 L701.18,558.19 L700.96,556.50 L700.74,554.81 L700.50,553.13 L700.25,551.44 L699.99,549.76 L699.72,548.08 L699.44,546.40 L699.15,544.71 L698.85,543.03 L698.54,541.36 L698.22,539.68 L697.89,538.00 L697.55,536.33 L697.20,534.65 L696.84,532.98 L696.47,531.31 L696.09,529.64 L695.70,527.98 L695.30,526.31 L694.89,524.64 L694.47,522.98 L694.04,521.32 L693.60,519.66 L693.15,518.00 L692.69,516.35 L692.23,514.69 L691.75,513.04 L691.26,511.39 L690.77,509.74 L690.26,508.10 L689.75,506.45 L689.23,504.81 L688.69,503.17 L688.15,501.53 L687.60,499.89 L687.04,498.26 L686.47,496.63 L685.89,495.00 L685.31,493.37 L684.71,491.75 L684.11,490.13 L683.49,488.51 L682.87,486.89 L682.24,485.28 L681.60,483.67 L680.95,482.06 L680.30,480.45 L679.63,478.85 L678.96,477.25 L678.27,475.65 L677.58,474.06 L676.88,472.46 L676.17,470.87 L675.46,469.29 L674.73,467.71 L674.00,466.13 L673.26,464.55 L672.51,462.98 L671.75,461.40 L670.99,459.84 L670.21,458.27 L669.43,456.71 L668.64,455.16 L667.85,453.60 L667.04,452.05 L666.23,450.51 L665.41,448.96 L664.58,447.42 L663.74,445.89 L662.90,444.35 L662.05,442.83 L661.19,441.30 L660.32,439.78 L659.45,438.26 L658.56,436.75 L657.68,435.24 L656.78,433.73 L655.88,432.23 L654.96,430.74 L654.05,429.24 L653.12,427.75 L652.19,426.27 L651.25,424.79 L650.30,423.31 L649.35,421.84 L648.38,420.37 L647.42,418.91 L646.44,417.45 L645.46,415.99 L644.47,414.54 L643.47,413.10 L642.47,411.66 L641.46,410.22 L640.45,408.79 L639.43,407.36 L638.40,405.94 L637.36,404.52 L636.32,403.11 L635.27,401.70 L634.21,400.30 L633.15,398.90 L632.09,397.51 L631.01,396.12 L629.93,394.73 L628.84,393.36 L627.75,391.98 L626.65,390.62 L625.55,389.25 L624.44,387.90 L623.32,386.55 L622.20,385.20 L621.07,383.86 L619.93,382.52 L618.79,381.19 L617.64,379.87 L616.49,378.55 L615.33,377.24 L614.17,375.93 L613.00,374.63 L611.83,373.33 L610.65,372.04 L609.46,370.76 L608.27,369.48 L607.07,368.21 L605.87,366.94 L604.66,365.68 L603.45,364.43 L602.23,363.18 L601.00,361.94 L599.78,360.70 L598.54,359.47 L597.30,358.25 L596.06,357.03 L594.81,355.82 L593.55,354.61 L592.30,353.42 L591.03,352.22 L589.76,351.04 L588.49,349.86 L587.21,348.69 L585.93,347.52 L584.64,346.36 L583.35,345.21 L582.05,344.07 L580.75,342.93 L579.44,341.80 L578.13,340.67 L576.81,339.55 L575.49,338.44 L574.17,337.34 L572.84,336.24 L571.51,335.15 L570.17,334.07 L568.83,332.99 L567.48,331.92 L566.13,330.86 L564.78,329.81 L563.42,328.76 L562.06,327.72 L560.70,326.69 L559.33,325.67 L557.95,324.65 L556.57,323.64 L555.19,322.64 L553.81,321.64 L552.42,320.66 L551.03,319.68 L549.63,318.71 L548.23,317.75 L546.83,316.79 L545.42,315.84 L544.01,314.90 L542.60,313.97 L541.18,313.05 L539.76,312.13 L538.34,311.23 L536.91,310.33 L535.48,309.44 L534.05,308.55 L532.61,307.68 L531.17,306.81 L529.73,305.95 L528.29,305.10 L526.84,304.26 L525.39,303.43 L523.93,302.60 L522.48,301.79 L521.02,300.98 L519.55,300.18 L518.09,299.39 L516.62,298.61 L515.15,297.84 L513.68,297.08 L512.20,296.30" fill="none" stroke="#475874" stroke-width="2.8" stroke-linejoin="round"/>
<circle cx="512.2" cy="296.3" r="6.5" fill="#3552a0"/>
</g>
<rect x="78.0" y="78.6" width="867.2" height="867.0" fill="none" stroke="#000" stroke-width="2"/>
<text x="40.7" y="49.3" text-anchor="middle" textLength="47.93" lengthAdjust="spacingAndGlyphs">120°</text>
<text x="983.7" y="49.3" text-anchor="middle" textLength="47.93" lengthAdjust="spacingAndGlyphs">120°</text>
<text x="78.8" y="49.3" text-anchor="start" textLength="159.33" lengthAdjust="spacingAndGlyphs">Gamma Angles</text>
<text x="512.5" y="49.3" text-anchor="middle" textLength="47.40" lengthAdjust="spacingAndGlyphs">180°</text>
<text x="40.7" y="178.1" text-anchor="middle" textLength="46.95" lengthAdjust="spacingAndGlyphs">105°</text>
<text x="983.7" y="178.1" text-anchor="middle" textLength="46.95" lengthAdjust="spacingAndGlyphs">105°</text>
<text x="40.7" y="304.4" text-anchor="middle" textLength="34.69" lengthAdjust="spacingAndGlyphs">90°</text>
<text x="983.7" y="304.4" text-anchor="middle" textLength="34.69" lengthAdjust="spacingAndGlyphs">90°</text>
<text x="40.7" y="430.6" text-anchor="middle" textLength="34.69" lengthAdjust="spacingAndGlyphs">75°</text>
<text x="983.7" y="430.6" text-anchor="middle" textLength="34.69" lengthAdjust="spacingAndGlyphs">75°</text>
<text x="40.7" y="576.4" text-anchor="middle" textLength="34.69" lengthAdjust="spacingAndGlyphs">60°</text>
<text x="983.7" y="576.4" text-anchor="middle" textLength="34.69" lengthAdjust="spacingAndGlyphs">60°</text>
<text x="40.7" y="775.9" text-anchor="middle" textLength="34.69" lengthAdjust="spacingAndGlyphs">45°</text>
<text x="983.7" y="775.9" text-anchor="middle" textLength="34.69" lengthAdjust="spacingAndGlyphs">45°</text>
<text x="114.0" y="992.6" text-anchor="middle" textLength="34.46" lengthAdjust="spacingAndGlyphs">30°</text>
<text x="327.7" y="992.6" text-anchor="middle" textLength="34.46" lengthAdjust="spacingAndGlyphs">15°</text>
<text x="512.2" y="992.6" text-anchor="middle" textLength="21.79" lengthAdjust="spacingAndGlyphs">0°</text>
<text x="697.0" y="992.6" text-anchor="middle" textLength="34.46" lengthAdjust="spacingAndGlyphs">15°</text>
<text x="909.7" y="992.6" text-anchor="middle" textLength="34.46" lengthAdjust="spacingAndGlyphs">30°</text>
<text x="938.5" y="933.6" text-anchor="end" textLength="68.34" lengthAdjust="spacingAndGlyphs">cd/klm</text>
</svg>
</body></html>
